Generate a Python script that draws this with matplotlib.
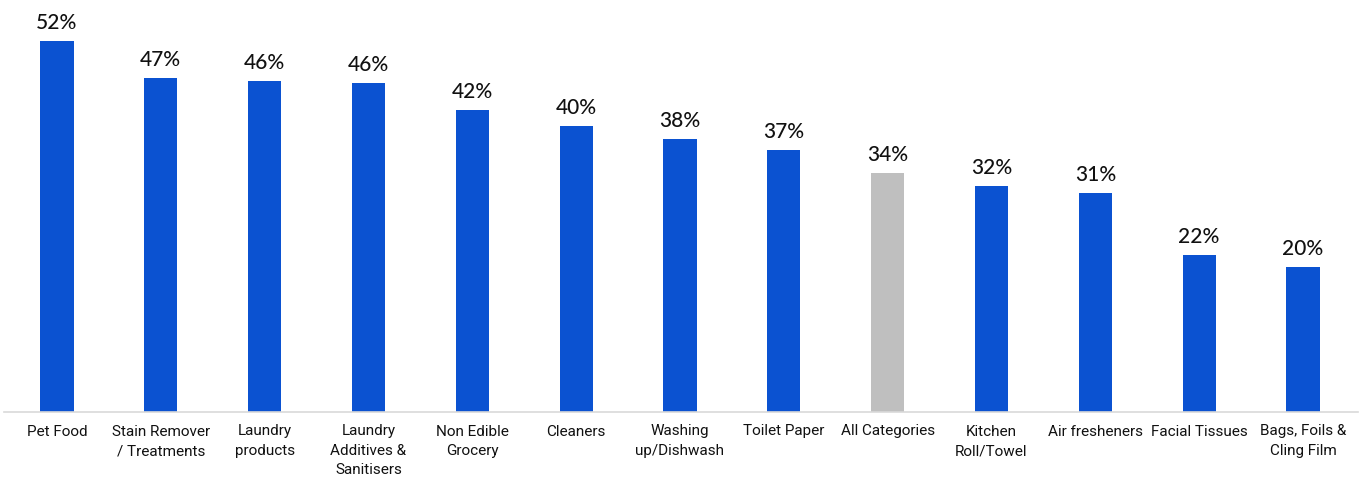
import matplotlib.pyplot as plt
import numpy as np

categories = ['Pet Food', 'Stain Remover\n/ Treatments', 'Laundry\nproducts', 'Laundry\nAdditives &\nSanitisers',
              'Non Edible\nGrocery', 'Cleaners', 'Washing\nup/Dishwash', 'Toilet Paper', 'All Categories',
              'Kitchen\nRoll/Towel', 'Air fresheners', 'Facial Tissues', 'Bags, Foils &\nCling Film']
values = [52.0, 46.8, 46.4, 46.1, 42.3, 40.1, 38.3, 36.7, 33.5, 31.7, 30.7, 22.0, 20.3]
labels = ['52%', '47%', '46%', '46%', '42%', '40%', '38%', '37%', '34%', '32%', '31%', '22%', '20%']
highlight = 'All Categories'

blue = '#0b52d1'
grey = '#bfbfbf'

fig = plt.figure(figsize=(13.64, 4.78), dpi=100)
ax = fig.add_axes([4 / 1364, 66 / 478, 1354 / 1364, 412 / 478])

x = np.arange(len(categories))
colors = [grey if c == highlight else blue for c in categories]
ax.bar(x, values, width=0.32, color=colors, zorder=2)

for xi, v, lab in zip(x, values, labels):
    ax.annotate(lab, (xi, v), xytext=(0, 6), textcoords='offset points', ha='center', va='bottom',
                fontsize=15, fontweight='medium', family=['Lato', 'DejaVu Sans'], color='#111111')

ax.set_xlim(-0.51, 12.53)
ax.set_ylim(0, 412 / 7.13)
ax.set_xticks(x)
ax.set_xticklabels(categories, fontsize=11, family=['Roboto', 'DejaVu Sans'],
                   linespacing=1.5, va='top', color='#111111')
ax.tick_params(axis='x', length=0, pad=9)
ax.set_yticks([])
for side in ['top', 'right', 'left']:
    ax.spines[side].set_visible(False)
ax.spines['bottom'].set_color('#d9d9d9')
ax.spines['bottom'].set_linewidth(1.2)

plt.savefig('out.png', dpi=100)
